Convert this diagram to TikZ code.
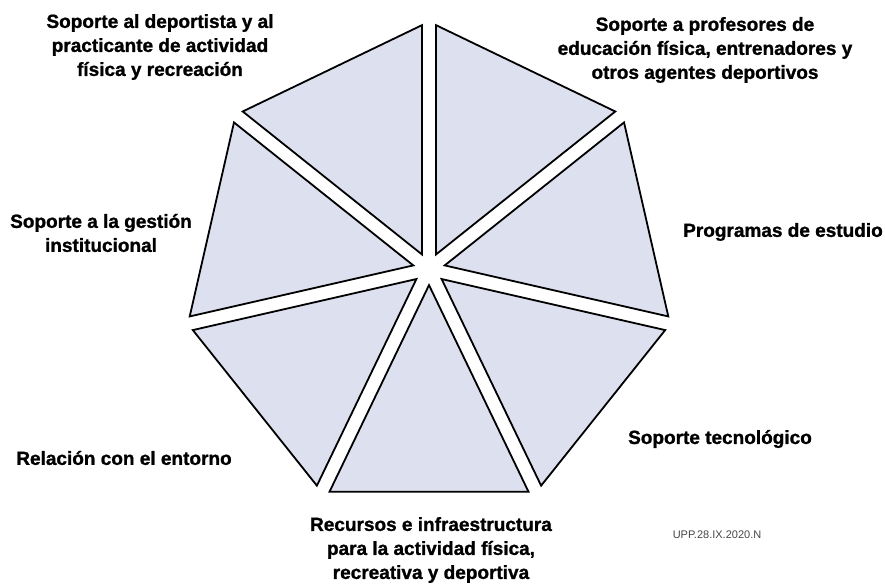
\documentclass[tikz,border=0pt]{standalone}
\usepackage{fontspec}
\setmainfont{Liberation Sans}[BoldFeatures={FakeBold=1.2}]
\usepackage{xcolor}
\usepackage{tikz}
\usetikzlibrary{positioning, calc}

\definecolor{slicefill}{RGB}{221,224,238}
\definecolor{stampgray}{RGB}{70,70,70}

\begin{document}
\begin{tikzpicture}[x=1pt, y=1pt,
      slice/.style={draw=black, line width=1.8pt, fill=slicefill, line join=miter},
      areatext/.style={align=center, inner sep=0pt, font=\fontsize{19}{24}\selectfont\bfseries},
      stamptext/.style={inner sep=0pt, text=stampgray, font=\fontsize{11}{12}\selectfont}
    ]
      \useasboundingbox (0,0) rectangle (885,584);
      \coordinate (hub) at (429,315);

      % seven slices of the heptagon
      \foreach \k in {0,...,6} {
        \begin{scope}[shift={(hub)}, rotate={64.2857-51.4286*\k}]
          \draw[slice] (16.1,0) -- (222.75,99.5) -- (222.75,-99.5) -- cycle;
        \end{scope}
      }

      \node[areatext] (deportista) at (160,537) {Soporte al deportista y al\\practicante de actividad\\física y recreación};
      \node[areatext] (profesores) at (705,534) {Soporte a profesores de\\educación física, entrenadores y\\otros agentes deportivos};
      \node[areatext] (gestion) at (101,351) {Soporte a la gestión\\institucional};
      \node[areatext] (programas) at (783,352) {Programas de estudio};
      \node[areatext] (entorno) at (124,126) {Relación con el entorno};
      \node[areatext] (tecnologico) at (720,145) {Soporte tecnológico};
      \node[areatext] (recursos) at (431,34) {Recursos e infraestructura\\para la actividad física,\\recreativa y deportiva};
      \node[stamptext] (sello) at (717,49) {UPP.28.IX.2020.N};
    \end{tikzpicture}
\end{document}
